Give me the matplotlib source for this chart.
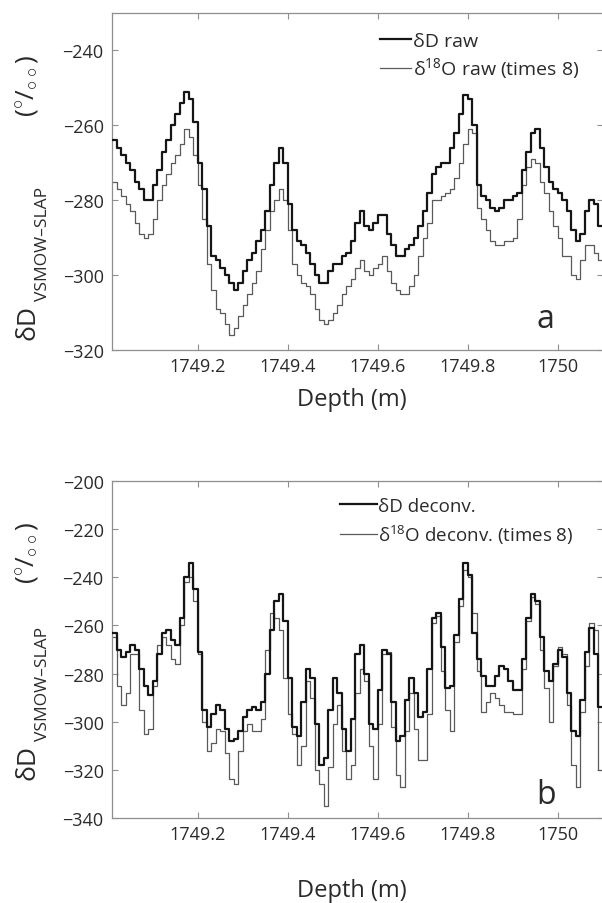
import numpy as np
import matplotlib
matplotlib.use("Agg")
import matplotlib.pyplot as plt

plt.rcParams['font.family'] = ['Open Sans', 'DejaVu Sans']
plt.rcParams['mathtext.fontset'] = 'custom'
plt.rcParams['mathtext.rm'] = 'Open Sans'
plt.rcParams['mathtext.it'] = 'Open Sans'
plt.rcParams['mathtext.bf'] = 'Open Sans'

# ---------------- data ----------------
DEPTH_START = 1749.01   # m, first sample
DEPTH_STEP = 0.01       # m, sample spacing
DEPTH_END = 1750.10     # m, end of last sample

top_dD_raw = [
    -264, -266, -268, -270, -272, -275, -277, -280, -280, -276,
    -272, -267, -264, -260, -257, -254, -251, -253, -259, -270,
    -277, -287, -295, -296, -298, -300, -302, -304, -302, -299,
    -296, -294, -291, -288, -283, -276, -270, -266, -270, -281,
    -288, -291, -292, -294, -297, -300, -302, -302, -299, -297,
    -297, -295, -294, -291, -286, -283, -287, -288, -286, -284,
    -284, -289, -292, -295, -295, -293, -292, -290, -287, -283,
    -278, -273, -271, -270, -270, -266, -262, -257, -252, -253,
    -260, -276, -279, -280, -282, -283, -282, -280, -280, -279,
    -278, -272, -267, -262, -261, -266, -271, -275, -277, -278,
    -280, -283, -288, -291, -289, -283, -280, -281, -287]

top_d18O_raw_x8 = [
    -275, -277, -279, -281, -283, -286, -289, -290, -289, -285,
    -280, -276, -273, -270, -268, -265, -261, -263, -268, -276,
    -285, -297, -304, -309, -310, -313, -316, -314, -311, -308,
    -305, -302, -299, -293, -288, -283, -280, -277, -280, -288,
    -297, -300, -302, -303, -305, -309, -312, -313, -312, -310,
    -308, -305, -303, -301, -298, -296, -299, -300, -298, -297,
    -295, -299, -302, -304, -305, -305, -303, -300, -295, -290,
    -286, -280, -280, -279, -278, -277, -274, -270, -265, -261,
    -262, -282, -285, -288, -291, -292, -292, -291, -291, -290,
    -285, -276, -271, -269, -270, -275, -278, -283, -287, -290,
    -295, -295, -300, -301, -296, -292, -292, -294, -296]

bot_dD_deconv = [
    -263, -270, -273, -271, -268, -270, -278, -285, -289, -283,
    -272, -263, -262, -266, -268, -257, -240, -234, -245, -271,
    -295, -302, -297, -293, -295, -303, -308, -307, -304, -298,
    -295, -294, -295, -292, -280, -262, -250, -247, -258, -282,
    -302, -306, -292, -278, -282, -301, -318, -315, -295, -282,
    -288, -303, -312, -299, -272, -268, -280, -301, -303, -287,
    -270, -272, -292, -308, -306, -291, -282, -288, -298, -296,
    -278, -257, -255, -269, -286, -285, -264, -249, -234, -239,
    -263, -274, -281, -285, -285, -281, -277, -278, -283, -287,
    -287, -274, -257, -247, -250, -265, -279, -283, -276, -270,
    -273, -288, -304, -306, -291, -271, -261, -272, -294]

bot_d18O_deconv_x8 = [
    -265, -285, -293, -288, -272, -272, -295, -305, -303, -285,
    -268, -265, -268, -274, -276, -260, -242, -240, -250, -272,
    -300, -312, -309, -303, -304, -313, -324, -326, -312, -304,
    -301, -304, -304, -299, -270, -255, -257, -262, -282, -297,
    -305, -318, -310, -283, -290, -320, -326, -335, -319, -301,
    -293, -312, -324, -318, -288, -278, -283, -310, -324, -301,
    -272, -271, -302, -322, -327, -304, -288, -303, -316, -316,
    -297, -259, -256, -279, -295, -304, -267, -252, -237, -240,
    -255, -279, -296, -292, -288, -290, -293, -296, -296, -297,
    -297, -278, -258, -248, -251, -270, -286, -300, -277, -269,
    -272, -293, -318, -327, -296, -277, -259, -262, -320]

x_ticks = [1749.2, 1749.4, 1749.6, 1749.8, 1750.0]
x_ticklabels = ['1749.2', '1749.4', '1749.6', '1749.8', '1750']
top_yticks = [-320, -300, -280, -260, -240]
bot_yticks = [-340, -320, -300, -280, -260, -240, -220, -200]

legend_top = ['δD raw', 'δ$^{\\mathregular{18}}$O raw (times 8)']
legend_bot = ['δD deconv.', 'δ$^{\\mathregular{18}}$O deconv. (times 8)']

# ---------------- figure ----------------
W, H = 602, 904
fig = plt.figure(figsize=(W / 100, H / 100), dpi=100)

def fx(px):
    return px / W

def fy(py):
    return 1 - py / H

AX_L, AX_R = 112, 603
ax1 = fig.add_axes([fx(AX_L), fy(351), fx(AX_R - AX_L), (351 - 14) / H])
ax2 = fig.add_axes([fx(AX_L), fy(819), fx(AX_R - AX_L), (819 - 482) / H])

n = len(top_dD_raw)
depth = DEPTH_START + DEPTH_STEP * np.arange(n)
depth_ext = np.append(depth, DEPTH_END)

def ext(v):
    return np.append(v, v[-1])

BLACK = '#151515'
GREY = '#5a5a5a'
SPINE = '#8f8f8f'
TXT = '#2a2a2a'

for ax, ya, yb, ylim, yt, labs in [
        (ax1, top_dD_raw, top_d18O_raw_x8, (-320, -230), top_yticks, legend_top),
        (ax2, bot_dD_deconv, bot_d18O_deconv_x8, (-340, -200), bot_yticks, legend_bot)]:
    ax.plot(depth_ext, ext(yb), drawstyle='steps-post', color=GREY, lw=0.9,
            label=labs[1], zorder=2)
    ax.plot(depth_ext, ext(ya), drawstyle='steps-post', color=BLACK, lw=1.6,
            label=labs[0], zorder=3)
    ax.set_xlim(1749.009, 1750.100)
    ax.set_ylim(*ylim)
    ax.set_xticks(x_ticks)
    ax.set_xticklabels(x_ticklabels)
    ax.set_yticks(yt)
    ax.set_yticklabels(['\u2212%d' % abs(v) for v in yt])
    ax.tick_params(direction='in', length=4, width=0.8, color=SPINE,
                   top=True, right=True, labelsize=13, labelcolor=TXT)
    ax.tick_params(axis='x', pad=5)
    ax.tick_params(axis='y', pad=6)
    for s in ax.spines.values():
        s.set_color(SPINE)
        s.set_linewidth(0.9)
    ax.set_xlabel('Depth (m)', fontsize=17, color=TXT)
    ax.xaxis.label.set_va('center')

ax1.xaxis.set_label_coords((351.5 - AX_L) / (AX_R - AX_L), (351 - 400) / 337)
ax2.xaxis.set_label_coords((351.5 - AX_L) / (AX_R - AX_L), (819 - 891) / 337)

# legends (black first)
for ax, anchor, hl, fs, sp in [(ax1, (380, 33), 1.6, 14, 0.28),
                               (ax2, (340, 498), 1.95, 13.5, 0.42)]:
    h, l = ax.get_legend_handles_labels()
    ax.legend(h[::-1], l[::-1], loc='upper left',
              bbox_to_anchor=(fx(anchor[0]), fy(anchor[1])),
              bbox_transform=fig.transFigure, frameon=False, fontsize=fs,
              handlelength=hl, handletextpad=0.1, borderpad=0,
              borderaxespad=0, labelspacing=sp, labelcolor=TXT)

# y labels: main symbol, subscript and per-mille sign
permil = '($^{\\circ}$/$_{\\circ\\circ}$)'
for base_main, base_sub, pm in [(340, 301, 86), (780, 741, 553)]:
    fig.text(fx(35), fy(base_main), 'δD', rotation=90, rotation_mode='anchor',
             ha='left', va='baseline', fontsize=19, color=TXT)
    fig.text(fx(47), fy(base_sub), 'VSMOW–SLAP', rotation=90,
             rotation_mode='anchor', ha='left', va='baseline', fontsize=12.5,
             color=TXT)
    fig.text(fx(28), fy(pm), permil, rotation=90, ha='center', va='center',
             fontsize=19, color=TXT)

# panel letters
fig.text(fx(545), fy(319), 'a', ha='center', va='center', fontsize=23, color=TXT)
fig.text(fx(546), fy(796), 'b', ha='center', va='center', fontsize=23, color=TXT)

fig.savefig('out.png', dpi=100, facecolor='white')
